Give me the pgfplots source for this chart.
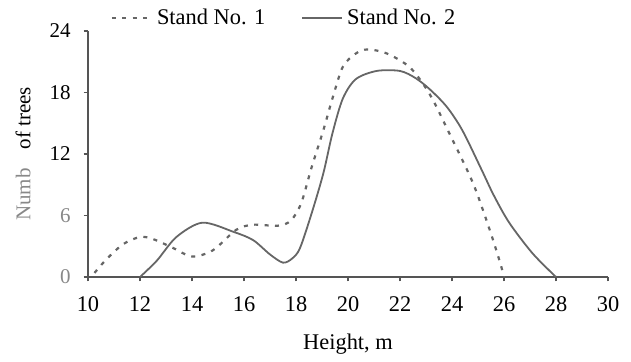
\documentclass[border=0pt]{standalone}
\usepackage{fontspec}
\setmainfont{Liberation Serif}
\usepackage{pgfplots}
\pgfplotsset{compat=1.18}
\definecolor{axgray}{HTML}{555555}
\definecolor{curvegray}{HTML}{666666}
\definecolor{labgray}{HTML}{888888}
\begin{document}
\begin{tikzpicture}
\useasboundingbox (-44pt,-42.5pt) rectangle (271.5pt,138.5pt);
\begin{axis}[
  at={(0,0)}, anchor=south west,
  scale only axis, width=260pt, height=123pt,
  xmin=10, xmax=30, ymin=0, ymax=24,
  axis x line*=bottom, axis y line*=left,
  axis line style={axgray, line width=0.9pt, -},
  xtick={10,12,...,30}, ytick={0,6,...,24},
  yticklabels={\textcolor{labgray}{0},\textcolor{labgray}{6},12,18,24},
  tick align=outside, major tick length=2.2pt,
  tick style={axgray, line width=0.9pt},
  /pgf/number format/assume math mode=true,
  xticklabel style={font=\fontsize{11.2}{13}\selectfont, text=black, yshift=-4pt},
  yticklabel style={font=\fontsize{10.5}{12}\selectfont, text=black, xshift=-3pt},
  xlabel={Height, m},
  xlabel style={font=\fontsize{11.2}{13}\selectfont, at={(axis description cs:0.5,0)}, anchor=center, yshift=-33.5pt},
  ylabel={\textcolor{labgray}{Numb}\hspace{0.9em}of trees},
  ylabel style={font=\fontsize{10.5}{12}\selectfont, at={(axis description cs:-0.125,0.5)}, anchor=center, rotate=0},
  legend columns=2,
  legend style={at={(rel axis cs:0.379,1.053)}, anchor=center, draw=none, fill=none,
    font=\fontsize{11.2}{13}\selectfont,
    /tikz/every even column/.append style={column sep=16pt}},
  legend cell align=left,
  legend image code/.code={\draw[#1] (0pt,0pt) -- (20pt,0pt);},
]
\addplot[curvegray, line width=1.1pt, dash pattern=on 2pt off 3.2pt, smooth, tension=0.5] coordinates {
(10.25,0.4) (10.7,1.7) (11.35,3.2) (12,3.9) (12.5,3.7) (13.3,2.8) (14,2.0) (14.8,2.6)
(15.7,4.6) (16.35,5.1) (17.3,5.0) (17.8,5.5) (18.2,7.2) (18.6,10.7) (19.05,14.3)
(19.4,17.4) (19.8,20.5) (20.3,21.8) (20.75,22.2) (21.5,21.8) (22.4,20.4) (23.15,17.8)
(23.9,14.0) (24.8,9.2) (25.45,4.6) (25.85,1.4) (26,0)
};
\addlegendentry{Stand No. 1}
\addplot[curvegray, line width=0.9pt, smooth, tension=0.5] coordinates {
(12,0) (12.65,1.6) (13.4,3.9) (14.4,5.3) (15.6,4.4) (16.35,3.6) (17.0,2.2) (17.5,1.4)
(17.85,1.8) (18.15,2.8) (18.6,6.2) (19.05,10.1) (19.4,14.0) (19.8,17.4) (20.3,19.3)
(21.1,20.1) (22.0,20.1) (22.6,19.4) (23.15,18.3) (23.8,16.6) (24.4,14.3) (25.15,10.4)
(25.6,8.0) (26.2,5.3) (27.1,2.3) (28,0)
};
\addlegendentry{Stand No. 2}
\end{axis}
\end{tikzpicture}
\end{document}
